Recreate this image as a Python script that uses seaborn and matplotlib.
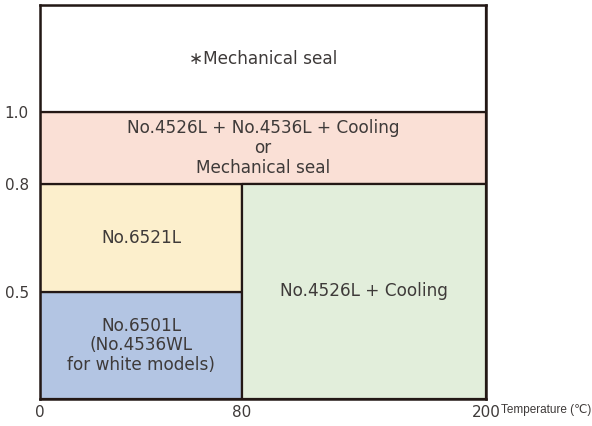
import matplotlib
matplotlib.use("Agg")
import matplotlib.pyplot as plt
import numpy as np
import seaborn as sns

# axis breakpoints (data) and where they sit on the drawing (fraction of axis)
temp_ticks = [0, 80, 200]
temp_pos = [0.0, 0.453, 1.0]
pres_levels = [0.0, 0.5, 0.8, 1.0, 1.3]
pres_pos = [0.0, 0.272, 0.546, 0.728, 1.0]
pres_ticks = [0.5, 0.8, 1.0]
pres_labels = ["0.5", "0.8", "1.0"]

# regions: (t0, t1, p0, p1, label, colour)
reg_t0 = [0, 0, 0, 80, 0]
reg_t1 = [80, 80, 200, 200, 200]
reg_p0 = [0.0, 0.5, 0.8, 0.0, 1.0]
reg_p1 = [0.5, 0.8, 1.0, 0.8, 1.3]
reg_labels = [
    "No.6501L\n(No.4536WL\nfor white models)",
    "No.6521L",
    "No.4526L + No.4536L + Cooling\nor\nMechanical seal",
    "No.4526L + Cooling",
    "\u2217Mechanical seal",
]
reg_colors = ["#b3c5e3", "#fcefcc", "#fae0d6", "#e2eedb", "#ffffff"]

sns.set_theme(style="white")
plt.rcParams["font.family"] = ["DejaVu Sans", "Noto Sans CJK JP"]

fig, ax = plt.subplots(figsize=(5.92, 4.26), dpi=100)
fig.subplots_adjust(left=40 / 592, right=486 / 592, top=1 - 5 / 426, bottom=1 - 399 / 426)

ax.set_xscale("function", functions=(lambda v: np.interp(v, temp_ticks, temp_pos),
                                     lambda v: np.interp(v, temp_pos, temp_ticks)))
ax.set_yscale("function", functions=(lambda v: np.interp(v, pres_levels, pres_pos),
                                     lambda v: np.interp(v, pres_pos, pres_levels)))

for t0, t1, p0, p1, lab, col in zip(reg_t0, reg_t1, reg_p0, reg_p1, reg_labels, reg_colors):
    ax.fill_between([t0, t1], p0, p1, facecolor=col, edgecolor="#231815", linewidth=1.6)
    # centre of region in display-fraction space
    xc = np.interp((np.interp(t0, temp_ticks, temp_pos) + np.interp(t1, temp_ticks, temp_pos)) / 2,
                   temp_pos, temp_ticks)
    yc = np.interp((np.interp(p0, pres_levels, pres_pos) + np.interp(p1, pres_levels, pres_pos)) / 2,
                   pres_pos, pres_levels)
    ax.text(xc, yc, lab, ha="center", va="center", fontsize=12.2, color="#3e3a39",
            linespacing=1.12)

ax.set_xlim(0, 200)
ax.set_ylim(0, 1.3)
ax.set_xticks(temp_ticks)
ax.set_xticklabels([str(t) for t in temp_ticks])
ax.set_yticks(pres_ticks)
ax.set_yticklabels(pres_labels)
ax.tick_params(axis="both", length=0, labelsize=11, colors="#3e3a39")
ax.tick_params(axis="x", pad=4)
ax.tick_params(axis="y", pad=8)
for s in ax.spines.values():
    s.set_color("#231815")
    s.set_linewidth(1.8)

fig.text(501 / 592, 1 - 410 / 426, "Temperature (\u2103)", fontsize=8.5, color="#3e3a39",
         va="center", ha="left",
         family=["Liberation Sans Narrow", "Liberation Sans", "DejaVu Sans"])

fig.savefig("out.png", dpi=100)
